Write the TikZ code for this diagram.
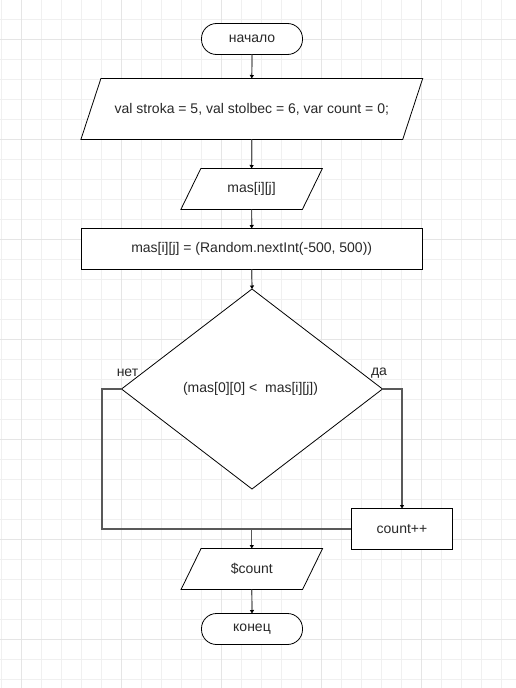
\documentclass[tikz,border=0pt]{standalone}
\usepackage{fontspec}
\setmainfont{Liberation Sans}
\usetikzlibrary{shapes.geometric,arrows.meta}
\pgfdeclarelayer{bg}
\pgfdeclarelayer{mid}
\pgfsetlayers{bg,mid,main}
\definecolor{gridminor}{RGB}{240,240,240}
\definecolor{gridmajor}{RGB}{229,229,229}
\definecolor{txt}{RGB}{40,40,40}
\tikzset{
  base/.style={draw=black, line width=0.8pt, inner sep=0pt, outer sep=0pt, text=txt,
    font=\fontsize{14}{16}\selectfont, fill=white},
  term/.style={base, rectangle, rounded corners=15pt, minimum width=101pt, minimum height=31pt},
  io/.style={rectangle, inner sep=0pt, outer sep=0pt, text=txt, font=\fontsize{14}{16}\selectfont},
  ioshape/.style={draw=black, line width=0.8pt, fill=white},
  proc/.style={base, rectangle},
  dec/.style={base, diamond, minimum width=261pt, minimum height=200pt},
  lbl/.style={inner sep=0pt, text=txt, font=\fontsize{14}{16}\selectfont},
  conn/.style={draw=black!65, line width=1.2pt},
  arr/.style={conn, -{Triangle[length=3.5pt,width=4pt,color=black]}},
}
\newcommand{\ioframe}[1]{%
  \begin{pgfonlayer}{mid}
  \draw[ioshape] ([xshift=10pt]#1.north west) -- ([xshift=10pt]#1.north east)
    -- ([xshift=-10pt]#1.south east) -- ([xshift=-10pt]#1.south west) -- cycle;
  \end{pgfonlayer}}
\begin{document}
\begin{tikzpicture}[x=1pt,y=-1pt]
\useasboundingbox (0,0) rectangle (516,688);
\begin{pgfonlayer}{bg}
\fill[white] (0,0) rectangle (516,688);
\foreach \i in {0,...,25} {
  \draw[gridminor, line width=1pt] ({1.7+20*\i},0) -- ++(0,688);
}
\foreach \j in {1,...,34} {
  \draw[gridminor, line width=1pt] (0,{20*\j-0.7}) -- ++(516,0);
}
\foreach \i in {21.7,121.7,221.7,321.7,421.7} {
  \draw[gridmajor, line width=1pt] (\i,0) -- ++(0,688);
}
\foreach \j in {39.3,139.3,239.3,339.3,439.3,539.3,639.3} {
  \draw[gridmajor, line width=1pt] (0,\j) -- ++(516,0);
}
\end{pgfonlayer}
% nodes
\node[term] (start) at (252,39) {начало};
\node[io, minimum width=321.8pt, minimum height=61pt] (in1) at (251.8,109)
      {val stroka = 5, val stolbec = 6, var count = 0;};
\ioframe{in1}
\node[io, minimum width=121.5pt, minimum height=41pt] (in2) at (251.6,189) {mas[i][j]};
\ioframe{in2}
\node[proc, minimum width=341.3pt, minimum height=41pt] (calc) at (251.7,249)
      {mas[i][j] = (Random.nextInt(-500, 500))};
\node[dec] (cond) at (252,389) {};
\node[lbl] (condtxt) at (250.5,389) {(mas[0][0] <\ \ mas[i][j])};
\node[proc, minimum width=101.4pt, minimum height=41pt] (cnt) at (402,529) {count++};
\node[io, minimum width=121.5pt, minimum height=41pt] (out) at (251.8,569) {\$count};
\ioframe{out}
\node[term] (stop) at (252,629) {конец};
\node[lbl] (no) at (127.5,373) {нет};
\node[lbl] (yes) at (379,373) {да};
\coordinate (L) at (102,529);
\coordinate (J) at (251.8,529);
% connectors
\draw[arr] (start.south) -- (in1.north);
\draw[arr] (in1.south) -- (in2.north);
\draw[arr] (in2.south) -- (calc.north);
\draw[arr] (calc.south) -- (cond.north);
\draw[arr] (cond.east) -| (cnt.north);
\draw[conn] (cond.west) -| (L) -- (cnt.west);
\draw[arr] (J) -- (out.north);
\draw[arr] (out.south) -- (stop.north);
\end{tikzpicture}
\end{document}
